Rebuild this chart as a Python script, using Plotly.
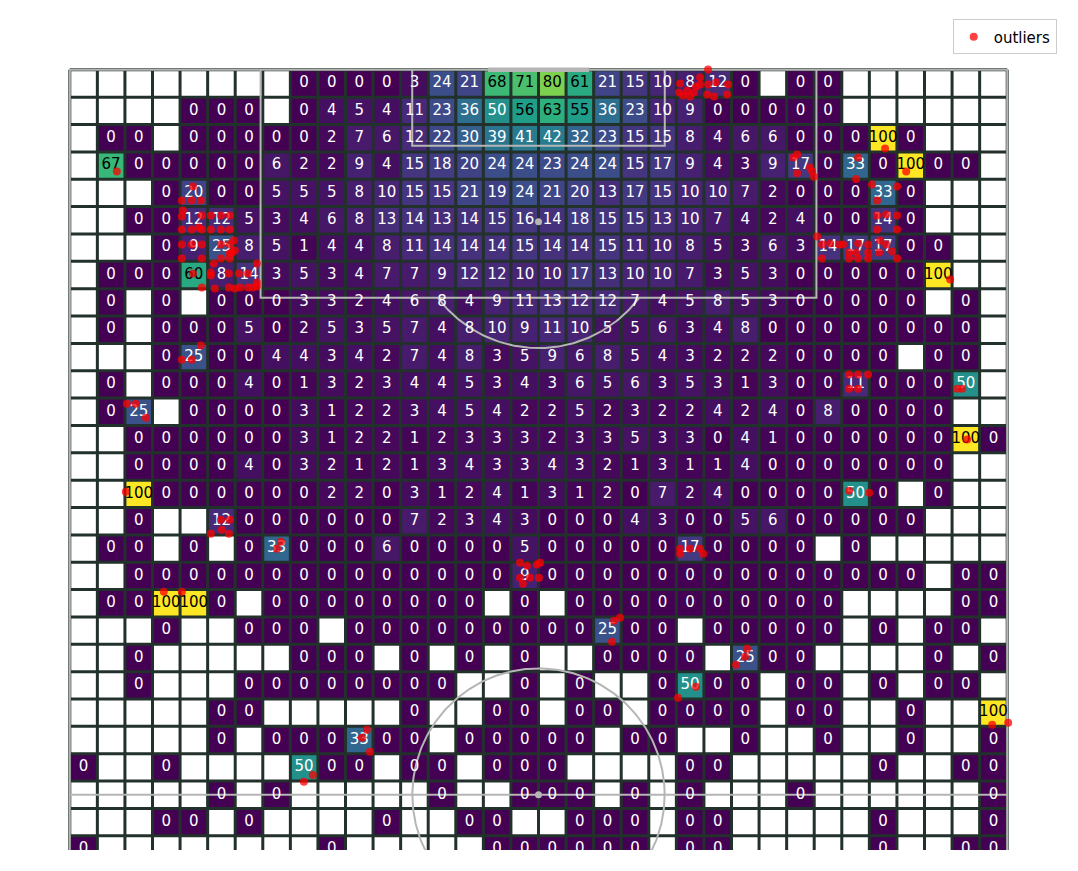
import numpy as np
import plotly.graph_objects as go

n = None
# Percentage per 2m x (105/53)m bin, rows from the goal line downward (visible rows only)
cell_values = [
    [n,n,n,n,n,n,n,n,0,0,0,0,3,24,21,68,71,80,61,21,15,10,8,12,0,n,0,0,n,n,n,n,n,n],
    [n,n,n,n,0,0,0,n,0,4,5,4,11,23,36,50,56,63,55,36,23,10,9,0,0,0,0,0,n,n,n,n,n,n],
    [n,0,0,n,0,0,0,0,0,2,7,6,12,22,30,39,41,42,32,23,15,15,8,4,6,6,0,0,0,100,0,n,n,n],
    [n,67,0,0,0,0,0,6,2,2,9,4,15,18,20,24,24,23,24,24,15,17,9,4,3,9,17,0,33,0,100,0,0,n],
    [n,n,n,0,20,0,0,5,5,5,8,10,15,15,21,19,24,21,20,13,17,15,10,10,7,2,0,0,0,33,0,n,n,n],
    [n,n,0,0,12,12,5,3,4,6,8,13,14,13,14,15,16,14,18,15,15,13,10,7,4,2,4,0,0,14,0,n,n,n],
    [n,n,n,0,9,25,8,5,1,4,4,8,11,14,14,14,15,14,14,15,11,10,8,5,3,6,3,14,17,17,0,0,n,n],
    [n,0,0,0,60,8,14,3,5,3,4,7,7,9,12,12,10,10,17,13,10,10,7,3,5,3,0,0,0,0,0,100,n,n],
    [n,0,n,0,n,0,0,0,3,3,2,4,6,8,4,9,11,13,12,12,7,4,5,8,5,3,0,0,0,0,0,n,0,n],
    [n,0,n,0,0,0,5,0,2,5,3,5,7,4,8,10,9,11,10,5,5,6,3,4,8,0,0,0,0,0,0,0,0,n],
    [n,n,n,0,25,0,0,4,4,3,4,2,7,4,8,3,5,9,6,8,5,4,3,2,2,2,0,0,0,0,n,0,0,n],
    [n,0,n,0,0,0,4,0,1,3,2,3,4,4,5,3,4,3,6,5,6,3,5,3,1,3,0,0,11,0,0,0,50,n],
    [n,0,25,n,0,0,0,0,3,1,2,2,3,4,5,4,2,2,5,2,3,2,2,4,2,4,0,8,0,0,0,0,n,n],
    [n,n,0,0,0,0,0,0,3,1,2,2,1,2,3,3,3,2,3,3,5,3,3,0,4,1,0,0,0,0,0,0,100,0],
    [n,n,0,0,0,0,4,0,3,2,1,2,1,3,4,3,3,4,3,2,1,3,1,1,4,0,0,0,0,0,0,0,n,n],
    [n,n,100,0,0,0,0,0,0,2,2,0,3,1,2,4,1,3,1,2,0,7,2,4,0,0,0,0,50,0,n,0,n,n],
    [n,n,0,n,n,12,0,0,0,0,0,0,7,2,3,4,3,0,0,0,4,3,0,0,5,6,0,0,0,0,0,n,n,n],
    [n,0,0,n,0,n,0,33,0,0,0,6,0,0,0,0,5,0,0,0,0,0,17,0,0,0,0,n,0,n,n,n,n,n],
    [n,n,0,0,0,0,0,0,0,0,0,0,0,0,0,0,9,0,0,0,0,0,0,0,0,0,0,0,0,0,0,n,0,0],
    [n,0,0,100,100,0,n,0,0,0,0,0,0,0,0,n,0,n,0,0,0,0,0,0,0,0,0,0,n,n,n,n,0,0],
    [n,n,n,0,n,n,0,0,0,n,0,0,0,0,0,0,0,0,0,25,0,0,n,0,0,0,0,0,n,0,n,0,0,n],
    [n,n,0,n,n,n,n,n,0,0,0,n,0,n,0,n,0,n,n,0,0,0,0,n,25,0,0,n,n,n,n,0,n,0],
    [n,n,0,n,n,n,0,0,0,0,0,0,0,0,n,n,0,n,0,n,n,0,50,0,0,n,0,0,n,0,n,0,0,n],
    [n,n,n,n,n,0,0,n,n,n,n,n,0,n,n,0,0,n,0,0,n,0,0,0,0,n,0,0,n,n,0,n,n,100],
    [n,n,n,n,n,0,n,0,0,0,33,0,0,n,0,0,0,0,0,n,0,0,n,n,0,n,n,0,n,n,0,n,n,0],
    [0,n,n,0,n,n,n,n,50,0,0,n,0,0,n,0,0,0,n,n,n,n,0,0,n,n,n,n,n,0,n,n,0,0],
    [n,n,n,n,n,0,n,0,n,n,n,n,n,0,n,n,0,0,0,n,0,n,0,n,n,n,0,n,n,n,n,n,n,0],
    [n,n,n,0,0,n,0,n,n,n,n,0,n,n,0,0,n,n,0,0,0,n,0,0,n,n,n,n,n,0,n,n,n,0],
    [0,n,n,n,n,n,n,n,n,0,n,n,n,n,n,0,0,0,0,0,0,n,0,0,n,n,n,n,n,0,n,n,0,0],
]

# Outlier events (metres: across the width, distance from goal line)
outlier_x = [44.27,44.19,44.78,44.49,44.99,45.28,45.43,45.72,45.72,46.30,46.30,46.23,46.73,46.88,47.75,47.68,
             59.14,60.67,57.18,57.04,52.47,52.76,52.76,53.70,53.85,53.99,58.20,60.01,58.56,
             58.56,59.22,60.01,58.56,60.01,
             54.21,54.57,55.15,55.81,56.10,57.18,57.91,58.78,59.22,59.65,56.53,57.91,58.71,54.57,56.53,57.18,57.91,60.01,57.04,
             63.86,56.53,57.18,57.91,56.53,57.18,64.37,64.73,65.09,56.53,57.98,
             44.27,44.27,44.99,45.72,45.94,
             32.66,33.16,33.89,34.11,32.66,33.38,34.03,32.87,
             39.48,39.91,39.33,49.13,48.33,48.98,45.43,44.12,66.91,68.07,
             21.55,21.19,21.77,17.63,16.98,6.82,8.13,15.31,15.02,
             10.96,11.61,11.03,10.23,11.54,4.06,4.14,4.79,5.52,9.51,8.13,8.85,3.41,
             8.93,8.13,8.85,9.51,8.20,8.13,9.58,10.23,10.96,11.61,
             8.13,8.85,9.58,10.23,10.96,11.61,9.36,
             8.13,8.85,9.58,10.96,11.61,11.90,11.97,11.61,
             8.13,9.58,10.96,11.61,11.76,
             10.45,8.93,10.23,10.23,11.54,12.26,12.92,13.57,
             9.58,10.52,11.54,11.97,12.34,12.92,13.28,13.57,13.57]
outlier_y = [0.99,1.64,1.49,1.86,1.93,1.64,1.20,0.55,1.06,-0.03,1.06,1.78,1.93,0.91,1.06,1.78,
             5.70,7.36,6.35,7.90,6.35,6.13,7.50,7.07,7.36,7.75,8.30,8.45,9.46,
             10.55,10.48,10.55,11.56,11.56,
             12.07,12.65,12.58,12.65,12.65,12.58,12.65,12.36,12.65,13.16,13.23,13.23,13.23,13.67,13.67,13.67,13.67,13.67,13.23,
             15.19,22.07,22.07,22.07,23.09,23.09,23.09,23.09,26.78,30.49,30.62,
             34.68,35.04,34.68,34.68,35.04,
             35.70,35.91,35.83,35.70,36.78,36.78,36.78,37.22,
             39.90,39.68,41.42,41.93,43.09,42.51,44.68,45.48,47.43,47.29,
             47.80,48.38,49.39,51.06,51.56,37.80,37.80,34.17,34.68,
             32.58,32.58,33.30,33.59,33.59,30.55,24.18,24.18,25.20,19.97,20.99,20.99,7.36,
             8.45,9.46,9.46,9.46,10.19,10.62,10.55,10.55,10.55,10.55,
             11.56,11.56,11.56,11.56,11.56,11.56,11.42,
             12.65,12.65,12.65,12.65,12.65,12.36,13.09,13.30,
             13.67,13.67,13.67,13.67,13.23,
             14.03,14.75,14.68,14.90,14.75,14.75,14.75,14.03,
             15.77,15.84,15.77,15.84,15.77,15.77,15.77,15.70,15.41]

PITCH_W, PITCH_L = 68.0, 105.0
N_COLS, N_LEN_BINS = 34, 53
cw = PITCH_W / N_COLS
rh = PITCH_L / N_LEN_BINS
n_vis = len(cell_values)
xc = [cw * (i + 0.5) for i in range(N_COLS)]
yc = [rh * (j + 0.5) for j in range(n_vis)]

LINE = '#b5b5b5'
GRID = '#22312b'
FONT = 'DejaVu Sans'

fig = go.Figure()
fig.add_trace(go.Heatmap(x=xc, y=yc, z=cell_values, colorscale='Viridis', zmin=0, zmax=100,
                         showscale=False, hoverinfo='skip'))

# bin edges
gx, gy = [], []
y_end = rh * n_vis
for i in range(N_COLS + 1):
    gx += [i * cw, i * cw, None]
    gy += [0, y_end, None]
for j in range(n_vis + 1):
    gx += [0, PITCH_W, None]
    gy += [j * rh, j * rh, None]
fig.add_trace(go.Scatter(x=gx, y=gy, mode='lines', line=dict(color=GRID, width=3),
                         hoverinfo='skip', showlegend=False))

# pitch markings
px, py = [], []
def seg(xs, ys):
    px.extend(list(xs) + [None]); py.extend(list(ys) + [None])
seg([0, 0], [0, PITCH_L]); seg([PITCH_W, PITCH_W], [0, PITCH_L]); seg([0, PITCH_W], [0, 0])
seg([0, PITCH_W], [PITCH_L / 2, PITCH_L / 2])
bw, bd = 40.32, 16.5
seg([34 - bw / 2, 34 - bw / 2, 34 + bw / 2, 34 + bw / 2], [0, bd, bd, 0])
sw, sd = 18.32, 5.5
seg([34 - sw / 2, 34 - sw / 2, 34 + sw / 2, 34 + sw / 2], [0, sd, sd, 0])
t = np.linspace(0, 2 * np.pi, 361)
ax_, ay_ = 34 + 9.15 * np.sin(t), 11 + 9.15 * np.cos(t)
m = ay_ >= bd
order = np.argsort(ax_[m])
seg(ax_[m][order], ay_[m][order])
seg(34 + 9.15 * np.cos(t), PITCH_L / 2 + 9.15 * np.sin(t))
fig.add_trace(go.Scatter(x=px, y=py, mode='lines', line=dict(color=LINE, width=2),
                         hoverinfo='skip', showlegend=False))
fig.add_trace(go.Scatter(x=[34 - 3.66, 34 + 3.66], y=[0, 0], mode='lines',
                         line=dict(color=LINE, width=4.5), hoverinfo='skip', showlegend=False))
fig.add_trace(go.Scatter(x=[34, 34], y=[11, PITCH_L / 2], mode='markers',
                         marker=dict(color=LINE, size=7), hoverinfo='skip', showlegend=False))

# labels
tx, ty, tt, tc = [], [], [], []
for j, row in enumerate(cell_values):
    for i, v in enumerate(row):
        if v is None:
            continue
        tx.append(xc[i]); ty.append(yc[j]); tt.append(str(v))
        tc.append('black' if v > 52 else 'white')
fig.add_trace(go.Scatter(x=tx, y=ty, text=tt, mode='text', textposition='middle center',
                         textfont=dict(family=FONT, size=15, color=tc),
                         hoverinfo='skip', showlegend=False))

fig.add_trace(go.Scatter(x=outlier_x, y=outlier_y, mode='markers', name='outliers',
                         marker=dict(color='rgba(255,0,0,0.75)', size=8), cliponaxis=False))

# page body has an 8px margin, so the figure is sized to fit the window from (8, 8)
fig.update_layout(
    width=1070, height=863,
    margin=dict(l=48, r=57, t=48, b=21, autoexpand=False),
    paper_bgcolor='white', plot_bgcolor='white',
    font=dict(family=FONT, size=14, color='black'),
    xaxis=dict(range=[-1, 69], visible=False, showgrid=False, zeroline=False),
    yaxis=dict(range=[56.5, -1], visible=False, showgrid=False, zeroline=False),
    showlegend=True,
    legend=dict(x=1.037, y=1.046, xanchor='right', yanchor='top', bgcolor='white',
                bordercolor='#cccccc', borderwidth=1, font=dict(family=FONT, size=15),
                itemwidth=30, tracegroupgap=0),
)
fig.write_html('out.html')
